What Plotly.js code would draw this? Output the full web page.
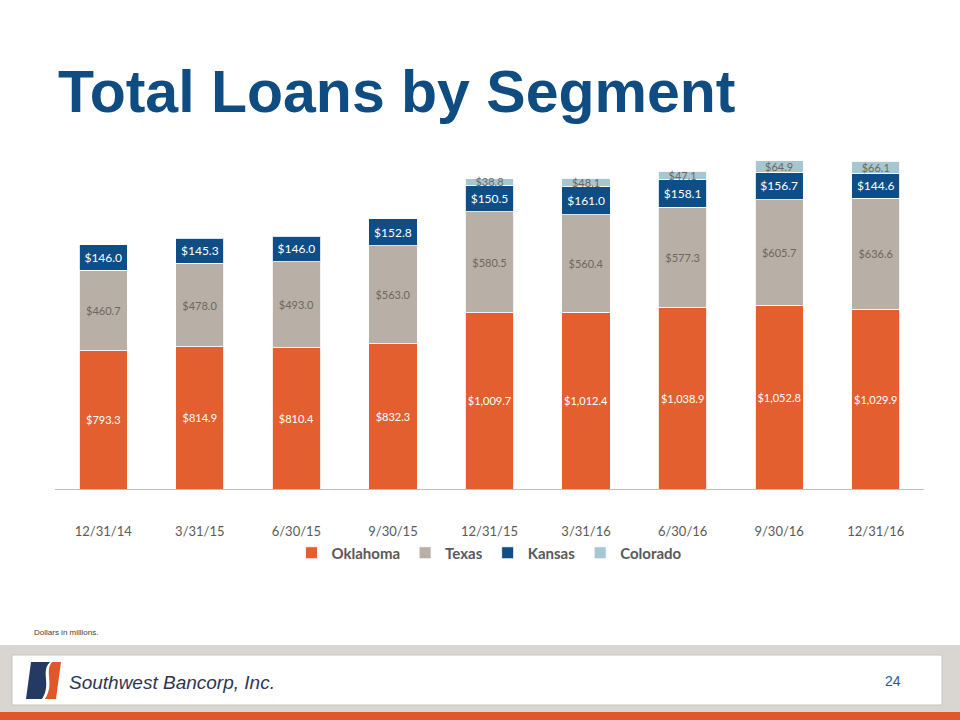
<!DOCTYPE html>
<html>
<head>
<meta charset="utf-8">
<script src="https://cdn.plot.ly/plotly-3.0.1.min.js"></script>
<style>
  html, body { margin: 0; padding: 0; background: #ffffff; }
  #chart { width: 960px; height: 720px; }
</style>
</head>
<body>
<div id="chart"></div>
<script>
const categories = ["12/31/14", "3/31/15", "6/30/15", "9/30/15", "12/31/15", "3/31/16", "6/30/16", "9/30/16", "12/31/16"];
const oklahoma = [793.3, 814.9, 810.4, 832.3, 1009.7, 1012.4, 1038.9, 1052.8, 1029.9];
const texas    = [460.7, 478.0, 493.0, 563.0, 580.5, 560.4, 577.3, 605.7, 636.6];
const kansas   = [146.0, 145.3, 146.0, 152.8, 150.5, 161.0, 158.1, 156.7, 144.6];
const colorado = [null, null, null, null, 38.8, 48.1, 47.1, 64.9, 66.1];

const fmt = v => (v === null ? "" : "$" + v.toLocaleString("en-US", {minimumFractionDigits: 1, maximumFractionDigits: 1}));

// plot-area geometry in pixels (for footer decorations)
const W = 960, H = 720;
const L = 55, R = 924, T = 150, B = 489;
const px = x => (x - L) / (R - L);
const py = y => (B - y) / (B - T);

function seg(name, vals, color, txtColor, txtSize) {
  return {
    type: "bar", name: name, x: categories, y: vals,
    text: vals.map(fmt), textposition: "inside", insidetextanchor: "middle",
    textangle: 0, constraintext: "none", cliponaxis: false,
    textfont: {family: "Lato, 'Open Sans', sans-serif", size: txtSize, color: txtColor},
    marker: {color: color, line: {color: "rgba(255,255,255,0.85)", width: 1}},
    hoverinfo: "skip"
  };
}

const data = [
  seg("Oklahoma", oklahoma, "#E35F2F", "#FFFFFF", 11),
  seg("Texas", texas, "#B8B0A6", "#6E6660", 11),
  seg("Kansas", kansas, "#0F4D86", "#FFFFFF", 12),
  seg("Colorado", colorado, "#A6C6D0", "#6E6660", 11)
];

const shapes = [
  // footer gray band
  {type: "rect", xref: "paper", yref: "paper", x0: px(0), x1: px(W), y0: py(712), y1: py(645),
   fillcolor: "#D9D5D0", line: {width: 0}, layer: "below"},
  // white footer panel
  {type: "rect", xref: "paper", yref: "paper", x0: px(12), x1: px(942), y0: py(705), y1: py(655),
   fillcolor: "#FFFFFF", line: {color: "#C8C4BF", width: 1}, layer: "below"},
  // orange stripe
  {type: "rect", xref: "paper", yref: "paper", x0: px(0), x1: px(W), y0: py(720), y1: py(712),
   fillcolor: "#E0582A", line: {width: 0}, layer: "below"},
  // logo: navy block
  {type: "path", xref: "paper", yref: "paper",
   path: `M ${px(31)} ${py(662)} L ${px(50)} ${py(662)} C ${px(40)} ${py(672)} ${px(52)} ${py(684)} ${px(42)} ${py(699)} L ${px(26)} ${py(699)} Z`,
   fillcolor: "#243A63", line: {width: 0}},
  // logo: orange block
  {type: "path", xref: "paper", yref: "paper",
   path: `M ${px(52)} ${py(662)} L ${px(61)} ${py(662)} L ${px(56)} ${py(699)} L ${px(45)} ${py(699)} C ${px(55)} ${py(684)} ${px(44)} ${py(672)} ${px(52)} ${py(662)} Z`,
   fillcolor: "#E0582A", line: {width: 0}}
];

const annotations = [
  {text: "<b>Total Loans by Segment</b>", xref: "paper", yref: "paper", x: px(56), y: py(92),
   xanchor: "left", yanchor: "middle", showarrow: false,
   font: {family: "'Liberation Sans', Arial, sans-serif", size: 59, color: "#0F4C81"}},
  {text: "Dollars in millions.", xref: "paper", yref: "paper", x: px(32), y: py(632),
   xanchor: "left", yanchor: "middle", showarrow: false,
   font: {family: "'Liberation Sans Narrow', 'Liberation Sans', sans-serif", size: 8, color: "#404040"}},
  {text: "<i>Southwest Bancorp, Inc.</i>", xref: "paper", yref: "paper", x: px(67), y: py(682),
   xanchor: "left", yanchor: "middle", showarrow: false,
   font: {family: "'Liberation Sans Narrow', 'Liberation Sans', sans-serif", size: 19, color: "#2E3555"}},
  {text: "24", xref: "paper", yref: "paper", x: px(893), y: py(681),
   xanchor: "center", yanchor: "middle", showarrow: false,
   font: {family: "'Liberation Sans Narrow', 'Liberation Sans', sans-serif", size: 14, color: "#1F5C99"}}
];

const layout = {
  width: W, height: H,
  margin: {l: L, r: W - R, t: T, b: H - B, pad: 0},
  paper_bgcolor: "#FFFFFF", plot_bgcolor: "#FFFFFF",
  barmode: "stack", bargap: 0.5,
  showlegend: true,
  legend: {orientation: "h", x: 0.5, xanchor: "center", y: py(553), yanchor: "middle",
           traceorder: "normal", font: {family: "Lato, 'Open Sans', sans-serif", size: 15, color: "#595959", weight: "bold"},
           itemwidth: 30, tracegroupgap: 0},
  xaxis: {type: "category", showgrid: false, zeroline: false, showline: true, linecolor: "#BFBFBF", linewidth: 1,
          ticks: "", ticklabelstandoff: 30,
          tickfont: {family: "Lato, 'Open Sans', sans-serif", size: 13, color: "#595959"}},
  yaxis: {range: [0, 1943], visible: false, showgrid: false, zeroline: false, fixedrange: true},
  shapes: shapes,
  annotations: annotations,
  hovermode: false
};

Plotly.newPlot("chart", data, layout, {displayModeBar: false, staticPlot: true});
</script>
</body>
</html>
